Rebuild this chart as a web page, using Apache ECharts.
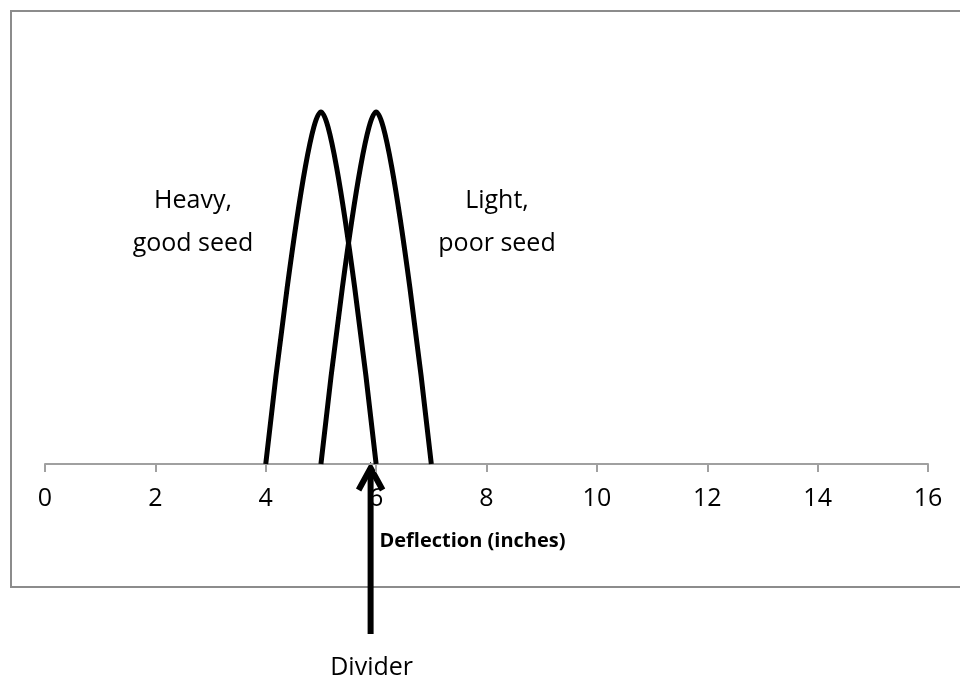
<!DOCTYPE html>
<html>
<head>
<meta charset="utf-8">
<script src="https://cdn.jsdelivr.net/npm/echarts@6/dist/echarts.min.js"></script>
<style>
  html, body { margin: 0; padding: 0; background: #fff; }
  #panel { width: 960px; height: 682px; }
</style>
</head>
<body>
<div id="panel"></div>
<script>
// deflection values (inches) and relative frequency
var heavyX = [4, 5, 6];
var heavyY = [0, 0.8, 0];
var lightX = [5, 6, 7];
var lightY = [0, 0.8, 0];
var xTicks = [0, 2, 4, 6, 8, 10, 12, 14, 16];
var dividerX = 5.9;

function pairs(xs, ys) {
    return xs.map(function (x, i) { return [x, ys[i]]; });
}

var font = '"Open Sans", "Noto Sans", sans-serif';
var myChart = echarts.init(document.getElementById('panel'));
myChart.setOption({
    backgroundColor: '#fff',
    animation: false,
    grid: { left: 45, right: 32, top: 24, bottom: 218 },
    xAxis: {
        type: 'value',
        min: xTicks[0],
        max: xTicks[xTicks.length - 1],
        interval: 2,
        name: 'Deflection (inches)',
        nameLocation: 'middle',
        nameGap: 67,
        nameTextStyle: { fontFamily: font, fontSize: 20, fontWeight: 'bold', color: '#000', padding: [0, 28, 0, 0] },
        axisLine: { lineStyle: { color: '#a0a0a0', width: 2 } },
        axisTick: { length: 8, lineStyle: { color: '#a0a0a0', width: 2 } },
        axisLabel: { fontFamily: font, fontSize: 25, color: '#000', margin: 22 },
        splitLine: { show: false }
    },
    yAxis: {
        type: 'value',
        min: 0,
        max: 1,
        show: false
    },
    series: [{
        name: 'Heavy, good seed',
        type: 'line',
        smooth: 0.3,
        symbol: 'none',
        lineStyle: { color: '#000', width: 5 },
        data: pairs(heavyX, heavyY)
    }, {
        name: 'Light, poor seed',
        type: 'line',
        smooth: 0.3,
        symbol: 'none',
        lineStyle: { color: '#000', width: 5 },
        data: pairs(lightX, lightY)
    }]
});

var ax = myChart.convertToPixel({ gridIndex: 0 }, [dividerX, 0])[0];
myChart.setOption({
    graphic: [{
        type: 'rect',
        shape: { x: 11, y: 11, width: 960, height: 576 },
        style: { fill: null, stroke: '#8c8c8c', lineWidth: 2 },
        silent: true
    }, {
        type: 'text',
        x: 193, y: 222,
        style: { text: 'Heavy,\ngood seed', font: '25px ' + font, fill: '#000', align: 'center', verticalAlign: 'middle', lineHeight: 43 }
    }, {
        type: 'text',
        x: 497, y: 222,
        style: { text: 'Light,\npoor seed', font: '25px ' + font, fill: '#000', align: 'center', verticalAlign: 'middle', lineHeight: 43 }
    }, {
        type: 'polyline',
        shape: { points: [[ax, 468], [ax, 634]] },
        style: { stroke: '#000', lineWidth: 6 }
    }, {
        type: 'polyline',
        shape: { points: [[ax - 12, 490], [ax, 468], [ax + 12, 490]] },
        style: { stroke: '#000', lineWidth: 6, fill: null }
    }, {
        type: 'text',
        x: ax + 1, y: 668,
        style: { text: 'Divider', font: '25px ' + font, fill: '#000', align: 'center', verticalAlign: 'middle' }
    }]
});
</script>
</body>
</html>
